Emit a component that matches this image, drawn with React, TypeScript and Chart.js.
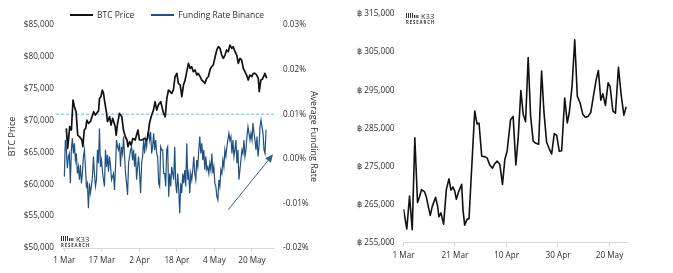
import React, { useEffect, useRef } from 'react';
import { Chart, registerables } from 'chart.js';

Chart.register(...registerables);

const FONT_FAMILY = "'Open Sans', 'DejaVu Sans', sans-serif";
const TEXT_COLOR = '#2e2e2e';
const AXIS_COLOR = '#d9d9d9';
const BTC_COLOR = '#111111';
const FUNDING_COLOR = '#1f5283';
const REFERENCE_COLOR = '#4cc6ee';
const ARROW_COLOR = '#2f6192';
const RIGHT_LINE_COLOR = '#111111';

// ---------------- Left chart data ----------------
const LEFT_TICK_DAYS = [0, 16, 32, 48, 64, 80];
const LEFT_TICK_LABELS = ['1 Mar', '17 Mar', '2 Apr', '18 Apr', '4 May', '20 May'];
const LEFT_DAY_MIN = -1;
const LEFT_DAY_MAX = 89.4;

const SERIES_LABELS = ['BTC Price', 'Funding Rate Binance'];

// days since 1 Mar
const BTC_DAYS = [
  0.85, 1.4, 2.3, 3.0, 3.7, 4.3, 5.0, 5.7, 6.5, 7.5,
  7.9, 8.5, 9.1, 9.6, 10.3, 11.1, 12.5, 13.2, 14.6, 15.0,
  15.6, 16.2, 16.7, 17.2, 17.9, 18.4, 19.3, 19.9, 20.6, 21.7,
  22.1, 22.7, 23.5, 24.5, 25.2, 26.0, 26.7, 27.1, 27.8, 28.5,
  29.2, 30.2, 31.4, 32.0, 33.0, 34.2, 34.9, 35.5, 36.3, 37.0,
  38.0, 38.7, 39.4, 40.1, 41.1, 42.3, 43.0, 43.7, 44.4, 45.1,
  45.8, 46.5, 47.2, 48.0, 48.6, 49.4, 50.1, 50.8, 51.5, 52.2,
  52.9, 53.6, 54.3, 55.0, 55.7, 56.5, 57.1, 57.9, 58.6, 59.3,
  60.0, 60.7, 61.4, 62.1, 62.8, 63.5, 64.3, 65.0, 65.7, 66.4,
  67.1, 67.8, 68.5, 69.2, 69.9, 70.6, 71.4, 72.0, 72.8, 73.5,
  74.2, 74.9, 75.6, 76.3, 77.0, 77.7, 78.4, 79.1, 79.9, 80.6,
  81.3, 82.0, 82.7, 83.1, 83.8, 84.4, 85.1, 85.5, 86.3,
];
const BTC_PRICES = [
  68780, 65640, 69040, 68510, 73225, 72180, 71390, 67730, 67460, 66950,
  65900, 68510, 68780, 70090, 69560, 69820, 71390, 70870, 71550, 73490,
  73750, 74800, 74270, 72960, 71390, 69820, 70610, 69300, 70350, 69040,
  67730, 69560, 71130, 70610, 68510, 67460, 66950, 65900, 66690, 66160,
  67200, 66950, 68510, 66950, 66950, 67200, 66950, 67200, 69560, 70610,
  71650, 72960, 71650, 72440, 72960, 71130, 70600, 73490, 74800, 74530,
  74270, 74800, 76880, 77420, 75850, 75580, 73740, 75580, 76360, 77670,
  78990, 78200, 78450, 77670, 77940, 77150, 77420, 76880, 76360, 76100,
  75850, 76630, 76880, 77940, 78450, 78720, 80020, 81080, 81590, 81340,
  80290, 79770, 80290, 81080, 80810, 81860, 81340, 81590, 80810, 80290,
  78990, 79770, 79510, 78200, 77670, 77150, 76360, 77150, 76880, 77420,
  77420, 77150, 76630, 74530, 76360, 76470, 77000, 77420, 76630,
];

// average funding rate (%), evenly spaced between first and last day
const FUNDING_FIRST_DAY = 0;
const FUNDING_LAST_DAY = 86;
const FUNDING_RATES = [
  -0.0040, 0.0042, 0.0020, -0.0021, 0.0005, 0.0012, -0.0055, 0.0020, 0.0046, 0.0012,
  0.0035, -0.0003, 0.0012, -0.0033, -0.0018, -0.0047, -0.0014, -0.0055, -0.0033, 0.0005,
  0.0020, -0.0018, -0.0062, -0.0055, -0.0111, -0.0055, -0.0077, -0.0062, -0.0040, 0.0005,
  -0.0033, -0.0062, -0.0047, 0.0020, -0.0010, 0.0068, -0.0018, -0.0003, -0.0029, -0.0047,
  -0.0062, 0.0020, -0.0018, 0.0009, -0.0029, 0.0005, -0.0014, -0.0047, -0.0040, -0.0033,
  -0.0070, -0.0018, 0.0042, 0.0027, 0.0020, 0.0035, -0.0018, 0.0027, 0.0012, 0.0050,
  0.0005, -0.0033, -0.0055, -0.0081, -0.0010, 0.0005, 0.0020, 0.0027, -0.0003, 0.0020,
  -0.0018, 0.0012, -0.0047, -0.0018, 0.0005, -0.0033, -0.0077, -0.0010, 0.0005, 0.0042,
  0.0012, 0.0042, 0.0027, 0.0057, 0.0060, 0.0042, 0.0060, 0.0012, 0.0027, 0.0057,
  0.0020, 0.0042, 0.0012, 0.0005, -0.0055, -0.0062, 0.0027, 0.0020, 0.0020, -0.0033,
  -0.0033,
  -0.0062, 0.0020, 0.0027, -0.0085, -0.0033, -0.0062, -0.0018, -0.0033, -0.0047, 0.0027,
  -0.0055, -0.0077, -0.0033, -0.0070, -0.0122, -0.0055, -0.0077, -0.0033, -0.0055, -0.0025,
  -0.0062, 0.0035, -0.0047, -0.0033, -0.0077, -0.0033, -0.0047, -0.0025, 0.0005, -0.0033,
  -0.0047, -0.0003, -0.0018, 0.0020, 0.0050, 0.0012, 0.0035, -0.0003, 0.0020, -0.0025,
  0.0005, -0.0025, -0.0018, -0.0033, -0.0010, -0.0025, 0.0012, -0.0033, -0.0018, -0.0055,
  -0.0062, -0.0085, -0.0092, -0.0047, -0.0062, -0.0025, -0.0033, -0.0003, -0.0018, 0.0020,
  0.0005, 0.0027, 0.0042, 0.0057, 0.0042, 0.0050, 0.0012, 0.0042, 0.0005, 0.0020,
  0.0042, -0.0010, 0.0020, -0.0047, -0.0025, -0.0003, 0.0020, 0.0012, 0.0042, 0.0005,
  0.0020, 0.0050, 0.0072, 0.0057, 0.0042, 0.0057, 0.0042, 0.0080, 0.0057, 0.0042,
  0.0020, 0.0050, 0.0005, 0.0027, 0.0072, 0.0087, 0.0072, 0.0057, 0.0020, 0.0012,
  0.0065,
];

const FUNDING_REFERENCE = 0.01;
const REFERENCE_FROM_DAY = -3.5;
const REFERENCE_TO_DAY = 90.5;

const ARROW_FROM = { day: 69.9, rate: -0.0114 };
const ARROW_TO = { day: 89.0, rate: 0.001 };

const PRICE_MIN = 50000;
const PRICE_MAX = 85000;
const PRICE_STEP = 5000;
const RATE_MIN = -0.02;
const RATE_MAX = 0.03;
const RATE_STEP = 0.01;

// ---------------- Right chart data ----------------
const RIGHT_TICK_DAYS = [0, 20, 40, 60, 80];
const RIGHT_TICK_LABELS = ['1 Mar', '21 Mar', '10 Apr', '30 Apr', '20 May'];
const RIGHT_DAY_MIN = 0;
const RIGHT_DAY_MAX = 86.8;

const BAHT_DAYS = [
  0, 1.29, 2.34, 3.39, 4.40, 5.45, 6.23, 7.01, 8.18, 8.84,
  9.62, 10.40, 11.18, 12.47, 13.25, 13.75, 14.53, 15.58, 16.63, 17.65,
  18.43, 19.21, 19.87, 20.53, 21.54, 22.59, 23.10, 23.76, 24.66, 25.44,
  27.66, 28.55, 29.33, 30.39, 31.55, 32.45, 33.50, 34.55, 35.45, 36.35,
  37.40, 38.45, 39.35, 40.24, 41.57, 42.58, 43.63, 44.53, 45.58, 46.48,
  47.41, 48.42, 49.36, 50.37, 51.42, 52.47, 53.64, 54.54, 55.59, 56.60,
  57.54, 58.55, 59.49, 60.50, 61.43, 62.60, 63.61, 64.39, 65.45, 66.50,
  67.51, 68.56, 69.61, 70.63, 71.68, 72.73, 73.74, 74.80, 75.69, 76.63,
  77.41, 78.42, 79.47, 80.25, 81.30, 82.31, 83.48, 84.53, 85.59, 86.48,
];
const BAHT_PRICES = [
  263900, 258660, 267310, 258480, 282570, 265600, 267130, 268990, 268400, 267130,
  264590, 262220, 264590, 266950, 264590, 261870, 262880, 259930, 268990, 271780,
  268840, 269670, 268660, 266440, 268660, 270360, 263750, 259680, 261200, 261360,
  289580, 286200, 286380, 277730, 277630, 277300, 275450, 274600, 275780, 276460,
  275600, 270360, 276870, 279010, 287300, 288160, 275450, 282390, 294930, 288750,
  286790, 303570, 288310, 281700, 281120, 280860, 300010, 289330, 281370, 279670,
  278320, 283660, 283230, 279010, 279160, 292990, 286460, 289180, 295940, 308250,
  293400, 291720, 288750, 287910, 288160, 289180, 293400, 297650, 300190, 292380,
  294090, 291030, 296960, 295940, 289580, 289000, 301030, 293830, 288490, 290700,
];
const BAHT_MIN = 255000;
const BAHT_MAX = 315000;
const BAHT_STEP = 10000;

// ---------------- helpers ----------------
const tickFont = { family: FONT_FAMILY, size: 8.2 };
const titleFont = { family: FONT_FAMILY, size: 9 };

function drawLogo(ctx: CanvasRenderingContext2D, x: number, y: number) {
  ctx.save();
  ctx.fillStyle = '#333333';
  for (let i = 0; i < 4; i++) ctx.fillRect(x + i * 2, y, 1, 5);
  for (let i = 0; i < 3; i++) ctx.fillRect(x + 8 + i * 1.7, y + 2, 1, 3);
  ctx.textBaseline = 'alphabetic';
  ctx.textAlign = 'left';
  ctx.font = `7.5px ${FONT_FAMILY}`;
  ctx.fillText('K33', x + 15, y + 5.5);
  ctx.font = `bold 4.3px ${FONT_FAMILY}`;
  try { (ctx as any).letterSpacing = '0.9px'; } catch (e) { /* ignore */ }
  ctx.fillText('RESEARCH', x, y + 10.5);
  ctx.restore();
}

const logoPlugin = {
  id: 'k33Logo',
  afterDraw(chart: any, _args: any, opts: any) {
    drawLogo(chart.ctx, opts.x, opts.y);
  },
};

const arrowPlugin = {
  id: 'trendArrow',
  afterDatasetsDraw(chart: any) {
    const { ctx } = chart;
    const xs = chart.scales.x;
    const ys = chart.scales.y1;
    const x0 = xs.getPixelForValue(ARROW_FROM.day);
    const y0 = ys.getPixelForValue(ARROW_FROM.rate);
    const x1 = xs.getPixelForValue(ARROW_TO.day);
    const y1 = ys.getPixelForValue(ARROW_TO.rate);
    const ang = Math.atan2(y1 - y0, x1 - x0);
    const head = 8;
    const half = 3.6;
    const bx = x1 - head * Math.cos(ang);
    const by = y1 - head * Math.sin(ang);
    ctx.save();
    ctx.strokeStyle = ARROW_COLOR;
    ctx.fillStyle = ARROW_COLOR;
    ctx.lineWidth = 1;
    ctx.beginPath();
    ctx.moveTo(x0, y0);
    ctx.lineTo(bx, by);
    ctx.stroke();
    ctx.beginPath();
    ctx.moveTo(x1, y1);
    ctx.lineTo(bx - half * Math.sin(ang), by + half * Math.cos(ang));
    ctx.lineTo(bx + half * Math.sin(ang), by - half * Math.cos(ang));
    ctx.closePath();
    ctx.fill();
    ctx.restore();
  },
};

function LeftChart() {
  const ref = useRef<HTMLCanvasElement>(null);
  useEffect(() => {
    const btc = BTC_DAYS.map((d, i) => ({ x: d, y: BTC_PRICES[i] }));
    const n = FUNDING_RATES.length;
    const funding = FUNDING_RATES.map((v, i) => ({
      x: FUNDING_FIRST_DAY + (i * (FUNDING_LAST_DAY - FUNDING_FIRST_DAY)) / (n - 1),
      y: v,
    }));
    const chart = new Chart(ref.current as HTMLCanvasElement, {
      type: 'line',
      data: {
        datasets: [
          {
            label: SERIES_LABELS[0],
            data: btc,
            yAxisID: 'y',
            borderColor: BTC_COLOR,
            borderWidth: 1.7,
            pointRadius: 0,
            tension: 0,
            borderJoinStyle: 'round',
          },
          {
            label: SERIES_LABELS[1],
            data: funding,
            yAxisID: 'y1',
            borderColor: FUNDING_COLOR,
            borderWidth: 1.2,
            pointRadius: 0,
            tension: 0,
          },
          {
            label: 'reference',
            data: [
              { x: REFERENCE_FROM_DAY, y: FUNDING_REFERENCE },
              { x: REFERENCE_TO_DAY, y: FUNDING_REFERENCE },
            ],
            yAxisID: 'y1',
            borderColor: REFERENCE_COLOR,
            borderWidth: 1,
            borderDash: [3, 2],
            pointRadius: 0,
            clip: false,
          },
        ],
      } as any,
      options: {
        responsive: false,
        animation: false,
        devicePixelRatio: 1,
        layout: { padding: { left: 4, right: 10, top: 25, bottom: 0 } },
        plugins: {
          legend: { display: false },
          tooltip: { enabled: false },
          k33Logo: { x: 61, y: 236 },
        } as any,
        scales: {
          x: {
            type: 'linear',
            min: LEFT_DAY_MIN,
            max: LEFT_DAY_MAX,
            afterBuildTicks: (s: any) => {
              s.ticks = LEFT_TICK_DAYS.map((v) => ({ value: v }));
            },
            afterFit: (s: any) => {
              s.height = 25;
            },
            ticks: {
              autoSkip: false,
              maxRotation: 0,
              padding: 4,
              color: TEXT_COLOR,
              font: tickFont,
              callback: (_v: any, i: number) => LEFT_TICK_LABELS[i],
            },
            grid: { display: true, drawOnChartArea: false, drawTicks: true, tickLength: 4, color: AXIS_COLOR },
            border: { display: true, color: AXIS_COLOR },
          },
          y: {
            position: 'left',
            min: PRICE_MIN,
            max: PRICE_MAX,
            afterFit: (s: any) => {
              s.width = 58;
            },
            ticks: {
              stepSize: PRICE_STEP,
              padding: 8,
              color: TEXT_COLOR,
              font: tickFont,
              callback: (v: any) => '$' + Number(v).toLocaleString('en-US'),
            },
            grid: { display: false, drawTicks: false },
            border: { display: false },
            title: {
              display: true,
              text: SERIES_LABELS[0],
              color: TEXT_COLOR,
              font: titleFont,
              padding: { top: 3, bottom: 0 },
            },
          },
          y1: {
            position: 'right',
            min: RATE_MIN,
            max: RATE_MAX,
            afterFit: (s: any) => {
              s.width = 46;
            },
            ticks: {
              stepSize: RATE_STEP,
              padding: 9,
              color: TEXT_COLOR,
              font: tickFont,
              callback: (v: any) => Number(v).toFixed(2) + '%',
            },
            grid: { display: false, drawTicks: false },
            border: { display: false },
            title: {
              display: true,
              text: 'Average Funding Rate',
              color: TEXT_COLOR,
              font: titleFont,
              padding: { top: 1, bottom: 0 },
            },
          },
        },
      } as any,
      plugins: [arrowPlugin, logoPlugin],
    });
    return () => chart.destroy();
  }, []);
  return (
    <canvas
      ref={ref}
      width={330}
      height={273}
      style={{ position: 'absolute', left: 0, top: 0, width: 330, height: 273 }}
    />
  );
}

function RightChart() {
  const ref = useRef<HTMLCanvasElement>(null);
  useEffect(() => {
    const data = BAHT_DAYS.map((d, i) => ({ x: d, y: BAHT_PRICES[i] }));
    const chart = new Chart(ref.current as HTMLCanvasElement, {
      type: 'line',
      data: {
        datasets: [
          {
            label: 'BTC Price (THB)',
            data,
            borderColor: RIGHT_LINE_COLOR,
            borderWidth: 1.6,
            pointRadius: 0,
            tension: 0,
            borderJoinStyle: 'round',
          },
        ],
      } as any,
      options: {
        responsive: false,
        animation: false,
        devicePixelRatio: 1,
        layout: { padding: { left: 0, right: 46, top: 7, bottom: 0 } },
        plugins: {
          legend: { display: false },
          tooltip: { enabled: false },
          k33Logo: { x: 76, y: 13 },
        } as any,
        scales: {
          x: {
            type: 'linear',
            min: RIGHT_DAY_MIN,
            max: RIGHT_DAY_MAX,
            afterBuildTicks: (s: any) => {
              s.ticks = RIGHT_TICK_DAYS.map((v) => ({ value: v }));
            },
            afterFit: (s: any) => {
              s.height = 30;
            },
            ticks: {
              autoSkip: false,
              maxRotation: 0,
              padding: 4,
              color: TEXT_COLOR,
              font: tickFont,
              callback: (_v: any, i: number) => RIGHT_TICK_LABELS[i],
            },
            grid: { display: true, drawOnChartArea: false, drawTicks: true, tickLength: 4, color: AXIS_COLOR },
            border: { display: true, color: AXIS_COLOR },
          },
          y: {
            position: 'left',
            min: BAHT_MIN,
            max: BAHT_MAX,
            afterFit: (s: any) => {
              s.width = 73.5;
            },
            ticks: {
              stepSize: BAHT_STEP,
              padding: 9,
              color: TEXT_COLOR,
              font: tickFont,
              callback: (v: any) => '\u0E3F ' + Number(v).toLocaleString('en-US'),
            },
            grid: { display: false, drawTicks: false },
            border: { display: false },
          },
        },
      } as any,
      plugins: [logoPlugin],
    });
    return () => chart.destroy();
  }, []);
  return (
    <canvas
      ref={ref}
      width={343}
      height={273}
      style={{ position: 'absolute', left: 330, top: 0, width: 343, height: 273 }}
    />
  );
}

function Legend() {
  const colors = [BTC_COLOR, FUNDING_COLOR];
  return (
    <div
      style={{
        position: 'absolute',
        left: 70,
        top: 9,
        display: 'flex',
        alignItems: 'center',
        fontFamily: FONT_FAMILY,
        fontSize: 8.5,
        lineHeight: '12px',
        color: TEXT_COLOR,
        whiteSpace: 'nowrap',
      }}
    >
      {SERIES_LABELS.map((label, i) => (
        <div key={label} style={{ display: 'flex', alignItems: 'center', marginRight: i === 0 ? 17 : 0 }}>
          <span style={{ display: 'inline-block', width: 23, height: i === 0 ? 2 : 1.5, background: colors[i], marginRight: 4 }} />
          <span>{label}</span>
        </div>
      ))}
    </div>
  );
}

export default function App() {
  return (
    <div
      style={{
        position: 'absolute',
        left: 0,
        top: 0,
        width: 673,
        height: 273,
        background: '#ffffff',
        overflow: 'hidden',
      }}
    >
      <LeftChart />
      <Legend />
      <RightChart />
    </div>
  );
}
